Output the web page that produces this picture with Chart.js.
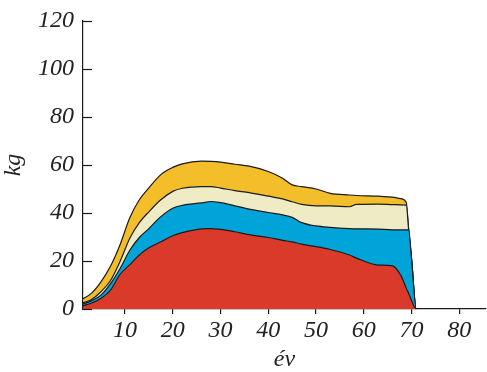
<!DOCTYPE html>
<html>
<head>
<meta charset="utf-8">
<script src="https://cdn.jsdelivr.net/npm/chart.js@4.4.0/dist/chart.umd.min.js"></script>
<style>
  html, body { margin: 0; padding: 0; background: #fff; }
  canvas { display: block; }
</style>
</head>
<body>
<canvas id="chart" width="487" height="372"></canvas>
<script>
// Age (years) and the cumulative top of each stacked band (kg)
const ages      = [1, 3, 5, 7, 9, 11, 13, 15, 17.5, 20, 22, 26, 28, 30, 33, 36, 40, 43, 45, 47, 50, 53, 57, 58.5, 63, 66, 67.7, 68.9, 69.4, 70, 71, 86];
const redTop    = [1.2, 2.5, 4.5, 8, 14.5, 18.5, 22.5, 25.5, 28, 30.5, 31.8, 33.4, 33.5, 33.2, 32.2, 31, 29.8, 28.6, 28, 27, 26, 24.8, 22.5, 21.2, 18.3, 18, 14.2, 8.7, 6.5, 3.5, 0, 0];
const blueTop   = [2, 3.5, 5.9, 10.7, 17, 24.5, 29.8, 33.5, 38.5, 42, 43.2, 44.2, 44.8, 44.3, 43, 41.6, 40.2, 39.2, 38.2, 36, 34.6, 34, 33.5, 33.4, 33.3, 33, 33, 33, 33, 21, 0, 0];
const creamTop  = [2.5, 4, 7.3, 12, 20, 29.5, 36, 40.5, 45.5, 49, 50.3, 51, 51, 50.4, 49.3, 48.5, 47, 45.9, 44.7, 43.6, 43, 43, 42.6, 43.6, 43.7, 43.5, 43.4, 43.3, 33, 21, 0, 0];
const yellowTop = [4, 6.6, 11.4, 18, 27, 38, 45.5, 50.5, 56, 59, 60.5, 61.6, 61.5, 61.2, 60.3, 59.5, 57.3, 54.5, 51.7, 51, 50, 48.2, 47.5, 47.3, 47, 46.6, 46, 44.4, 33, 21, 0, 0];

const xTicks = [10, 20, 30, 40, 50, 60, 70, 80];
const yTicks = [0, 20, 40, 60, 80, 100, 120];

const FONT = { family: 'Liberation Serif', style: 'italic', size: 24, lineHeight: 1 };

function series(values) {
    return ages.map((a, i) => ({ x: a, y: values[i] }));
}

function band(values, color, fill) {
    return {
        data: series(values),
        backgroundColor: color,
        borderColor: '#1a1a1a',
        borderWidth: 1.2,
        pointRadius: 0,
        cubicInterpolationMode: 'monotone',
        fill: fill
    };
}

// y-axis tick marks point into the plot, so draw them by hand from the scale
const innerTicks = {
    id: 'innerTicks',
    afterDraw(chart) {
        const ctx = chart.ctx;
        const y = chart.scales.y;
        ctx.save();
        ctx.strokeStyle = '#1a1a1a';
        ctx.lineWidth = 1.2;
        yTicks.forEach(v => {
            const py = Math.round(y.getPixelForValue(v)) + 0.5;
            ctx.beginPath();
            ctx.moveTo(y.right, py);
            ctx.lineTo(y.right + 9, py);
            ctx.stroke();
        });
        ctx.restore();
    }
};

new Chart(document.getElementById('chart'), {
    type: 'line',
    data: {
        datasets: [
            band(redTop, '#d93a2a', 'origin'),
            band(blueTop, '#00a4d8', '-1'),
            band(creamTop, '#efebc4', '-1'),
            band(yellowTop, '#f3be2a', '-1')
        ]
    },
    options: {
        responsive: false,
        animation: false,
        layout: { padding: { top: 8, right: 1, left: 2, bottom: 0 } },
        plugins: { legend: { display: false }, tooltip: { enabled: false } },
        scales: {
            x: {
                type: 'linear',
                min: 1.2,
                max: 85.6,
                afterBuildTicks: s => { s.ticks = xTicks.map(v => ({ value: v })); },
                grid: { drawOnChartArea: false, tickLength: 5, color: '#1a1a1a', lineWidth: 1.2 },
                border: { color: '#1a1a1a', width: 1.2 },
                ticks: { color: '#222', padding: 5, font: FONT },
                title: { display: true, text: 'év', color: '#222', padding: { top: 0, bottom: 0 }, font: FONT }
            },
            y: {
                min: 0,
                max: 120,
                afterBuildTicks: s => { s.ticks = yTicks.map(v => ({ value: v })); },
                grid: { display: true, drawOnChartArea: false, drawTicks: false },
                border: { color: '#1a1a1a', width: 1.2 },
                ticks: { color: '#222', padding: 9, font: FONT },
                title: { display: true, text: 'kg', color: '#222', padding: { top: 0, bottom: 3 }, font: FONT }
            }
        }
    },
    plugins: [innerTicks]
});
</script>
</body>
</html>
